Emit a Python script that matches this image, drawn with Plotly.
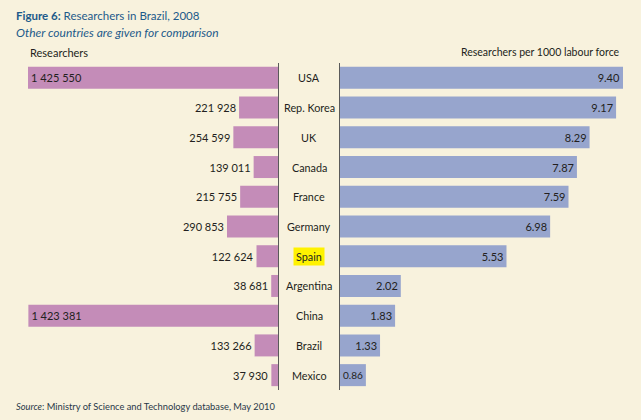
import plotly.graph_objects as go

countries = ["USA", "Rep. Korea", "UK", "Canada", "France", "Germany", "Spain",
             "Argentina", "China", "Brazil", "Mexico"]
researchers = [1425550, 221928, 254599, 139011, 215755, 290853, 122624,
               38681, 1423381, 133266, 37930]
per_1000 = [9.40, 9.17, 8.29, 7.87, 7.59, 6.98, 5.53, 2.02, 1.83, 1.33, 0.86]

W, H = 641, 420
BG = "#F8F2DD"
PINK = "#C48CB8"
BLUE = "#97A5CD"
TXT = "#231F20"
TITLE_BLUE = "#1D5A8A"
FONT = "Lato"

left_text = [f"{v:,}".replace(",", " ") for v in researchers]
left_pos = ["inside" if v > 1_000_000 else "outside" for v in researchers]
right_text = [f"{v:.2f}" for v in per_1000]

fig = go.Figure()
fig.add_trace(go.Bar(
    y=countries, x=researchers, orientation="h", xaxis="x", yaxis="y",
    marker=dict(color=PINK, line=dict(width=0)),
    text=left_text, textposition=left_pos, insidetextanchor="end",
    textfont=dict(color=TXT, size=11, family=FONT),
    cliponaxis=False, hoverinfo="skip",
))
fig.add_trace(go.Bar(
    y=countries, x=per_1000, orientation="h", xaxis="x2", yaxis="y2",
    marker=dict(color=BLUE, line=dict(width=0)),
    text=right_text, textposition="inside", insidetextanchor="end",
    textfont=dict(color=TXT, size=11, family=FONT),
    cliponaxis=False, hoverinfo="skip",
))

xl0, xl1 = 28 / W, 278 / W
xr0, xr1 = 340 / W, 623 / W
yd0, yd1 = 1 - 390 / H, 1 - 63 / H

fig.update_layout(
    width=W, height=H, margin=dict(l=0, r=0, t=0, b=0),
    paper_bgcolor=BG, plot_bgcolor=BG, showlegend=False,
    bargap=0.26, uniformtext=dict(mode=False),
    font=dict(family=FONT, color=TXT, size=11),
    xaxis=dict(domain=[xl0, xl1], range=[1425550, 0], visible=False, fixedrange=True),
    xaxis2=dict(domain=[xr0, xr1], range=[0, 9.40], visible=False, fixedrange=True),
    yaxis=dict(domain=[yd0, yd1], anchor="x", type="category", range=[10.5, -0.5],
               side="right", showline=True, linecolor="#5A5A5A", linewidth=1,
               showticklabels=False, ticks="", showgrid=False, zeroline=False,
               fixedrange=True),
    yaxis2=dict(domain=[yd0, yd1], anchor="x2", type="category", range=[10.5, -0.5],
                side="left", showline=True, linecolor="#5A5A5A", linewidth=1,
                showticklabels=False, ticks="", showgrid=False, zeroline=False,
                fixedrange=True),
)

for c in countries:
    fig.add_annotation(
        x=309 / W, xref="paper", y=c, yref="y", text=c, showarrow=False,
        font=dict(size=10.8, color=TXT, family=FONT),
        bgcolor="#FFF200" if c == "Spain" else None, borderpad=2,
    )

fig.add_annotation(x=14 / W, y=1 - 16 / H, xref="paper", yref="paper", xanchor="left",
                   yanchor="middle", showarrow=False,
                   text="<b>Figure 6:</b> Researchers in Brazil, 2008",
                   font=dict(size=11.5, color=TITLE_BLUE, family=FONT))
fig.add_annotation(x=14 / W, y=1 - 33 / H, xref="paper", yref="paper", xanchor="left",
                   yanchor="middle", showarrow=False,
                   text="<i>Other countries are given for comparison</i>",
                   font=dict(size=12, color=TITLE_BLUE, family=FONT))
fig.add_annotation(x=28 / W, y=1 - 52 / H, xref="paper", yref="paper", xanchor="left",
                   yanchor="middle", showarrow=False, text="Researchers",
                   font=dict(size=11, color=TXT, family=FONT))
fig.add_annotation(x=622 / W, y=1 - 52 / H, xref="paper", yref="paper", xanchor="right",
                   yanchor="middle", showarrow=False, text="Researchers per 1000 labour force",
                   font=dict(size=10.5, color=TXT, family=FONT))
fig.add_annotation(x=14 / W, y=1 - 406 / H, xref="paper", yref="paper", xanchor="left",
                   yanchor="middle", showarrow=False,
                   text="<i>Source</i>: Ministry of Science and Technology database, May 2010",
                   font=dict(size=9.3, color="#283848", family=FONT))

fig.write_html("out.html", config={"displayModeBar": False},
               post_script="document.body.style.margin='0';")
